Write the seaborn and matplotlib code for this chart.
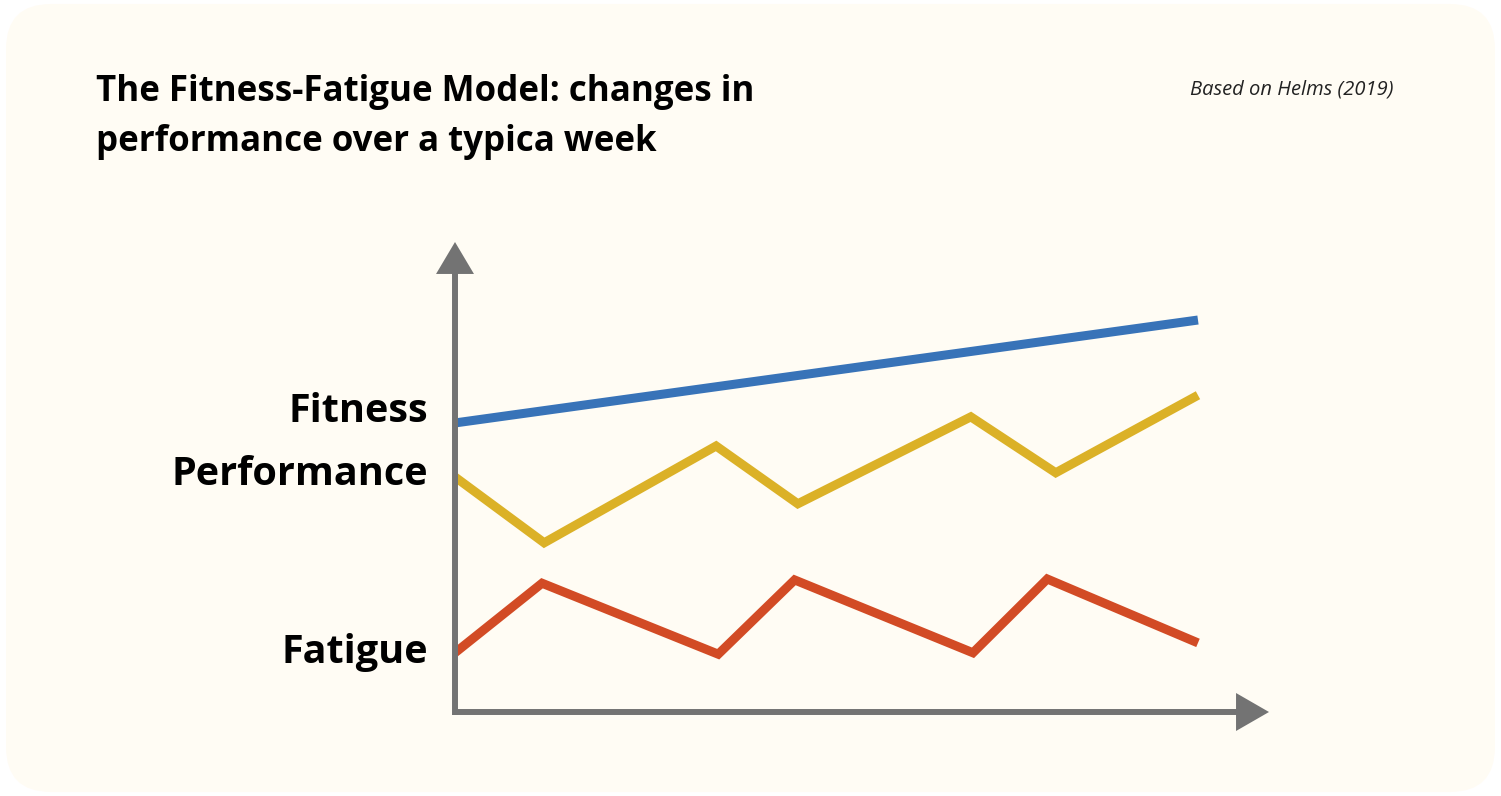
import pandas as pd
import matplotlib.pyplot as plt
import seaborn as sns
from matplotlib.patches import FancyBboxPatch, Polygon

# values (x in days, y in arbitrary units)
fitness_x = [0.0, 7.0]
fitness_y = [6.15, 8.34]
performance_x = [0.0, 0.84, 2.46, 3.23, 4.86, 5.66, 7.0]
performance_y = [5.0, 3.6, 5.66, 4.43, 6.28, 5.09, 6.74]
fatigue_x = [0.0, 0.82, 2.48, 3.2, 4.88, 5.58, 7.0]
fatigue_y = [1.26, 2.74, 1.23, 2.81, 1.26, 2.83, 1.47]

label_names = ['Fitness', 'Performance', 'Fatigue']
label_pos = [6.5, 5.15, 1.37]

colors = {'Fitness': '#3873b8', 'Performance': '#dbb127', 'Fatigue': '#d24b25'}
axis_gray = '#737373'
bg = '#fffcf4'

df = pd.concat([
    pd.DataFrame({'day': fitness_x, 'value': fitness_y, 'series': 'Fitness'}),
    pd.DataFrame({'day': performance_x, 'value': performance_y, 'series': 'Performance'}),
    pd.DataFrame({'day': fatigue_x, 'value': fatigue_y, 'series': 'Fatigue'}),
])

sns.set_style('white')
plt.rcParams['font.family'] = ['Open Sans', 'DejaVu Sans']

W, H = 1501, 796
fig = plt.figure(figsize=(W / 100, H / 100), dpi=100, facecolor='white')

# cream card with rounded corners
card = FancyBboxPatch((0.004, 0.005), 0.992, 0.99, boxstyle='round,pad=0,rounding_size=0.03',
                      transform=fig.transFigure, facecolor=bg, edgecolor='none',
                      mutation_aspect=W / H, zorder=-10)
fig.patches.append(card)

ax = fig.add_axes([455 / W, (H - 712) / H, (1269 - 455) / W, (712 - 242) / H])
ax.set_facecolor('none')
ax.set_zorder(2)

sns.lineplot(data=df, x='day', y='value', hue='series', palette=colors, ax=ax,
             linewidth=6.5, legend=False, sort=False)
for line in ax.get_lines():
    line.set_solid_capstyle('butt')
    line.set_solid_joinstyle('miter')
    line.set_clip_on(False)

ax.set_xlim(0, 814 / 106.14)
ax.set_ylim(0, 10)
ax.set_xlabel('')
ax.set_ylabel('')
ax.set_xticks([])
ax.set_yticks(label_pos)
ax.set_yticklabels(label_names, fontsize=28.5, fontweight='bold', color='black')
ax.tick_params(axis='y', length=0, pad=19)
for s in ax.spines.values():
    s.set_visible(False)

# axis arrows (axes fraction coords)
lw = 4.3
ax.plot([0, 0], [-0.006, 0.935], color=axis_gray, lw=lw, transform=ax.transAxes,
        clip_on=False, zorder=5, solid_capstyle='butt')
ax.plot([-0.003, 0.962], [0, 0], color=axis_gray, lw=lw, transform=ax.transAxes,
        clip_on=False, zorder=5, solid_capstyle='butt')
ax.add_patch(Polygon([[-0.0233, 0.932], [0.0233, 0.932], [0, 1.0]], closed=True,
                     transform=ax.transAxes, facecolor=axis_gray, edgecolor='none',
                     clip_on=False, zorder=5))
ax.add_patch(Polygon([[0.9595, -0.0404], [0.9595, 0.0404], [1.0, 0]], closed=True,
                     transform=ax.transAxes, facecolor=axis_gray, edgecolor='none',
                     clip_on=False, zorder=5))

fig.text(96 / W, 1 - 74 / H,
         'The Fitness-Fatigue Model: changes in\nperformance over a typica week',
         fontsize=25.1, fontweight='bold', color='black', va='top', ha='left',
         linespacing=1.5)
fig.text(1393 / W, 1 - 95 / H, 'Based on Helms (2019)', fontsize=14.5, style='italic',
         color='#222222', ha='right', va='baseline')

fig.savefig('out.png', dpi=100, facecolor='white')
